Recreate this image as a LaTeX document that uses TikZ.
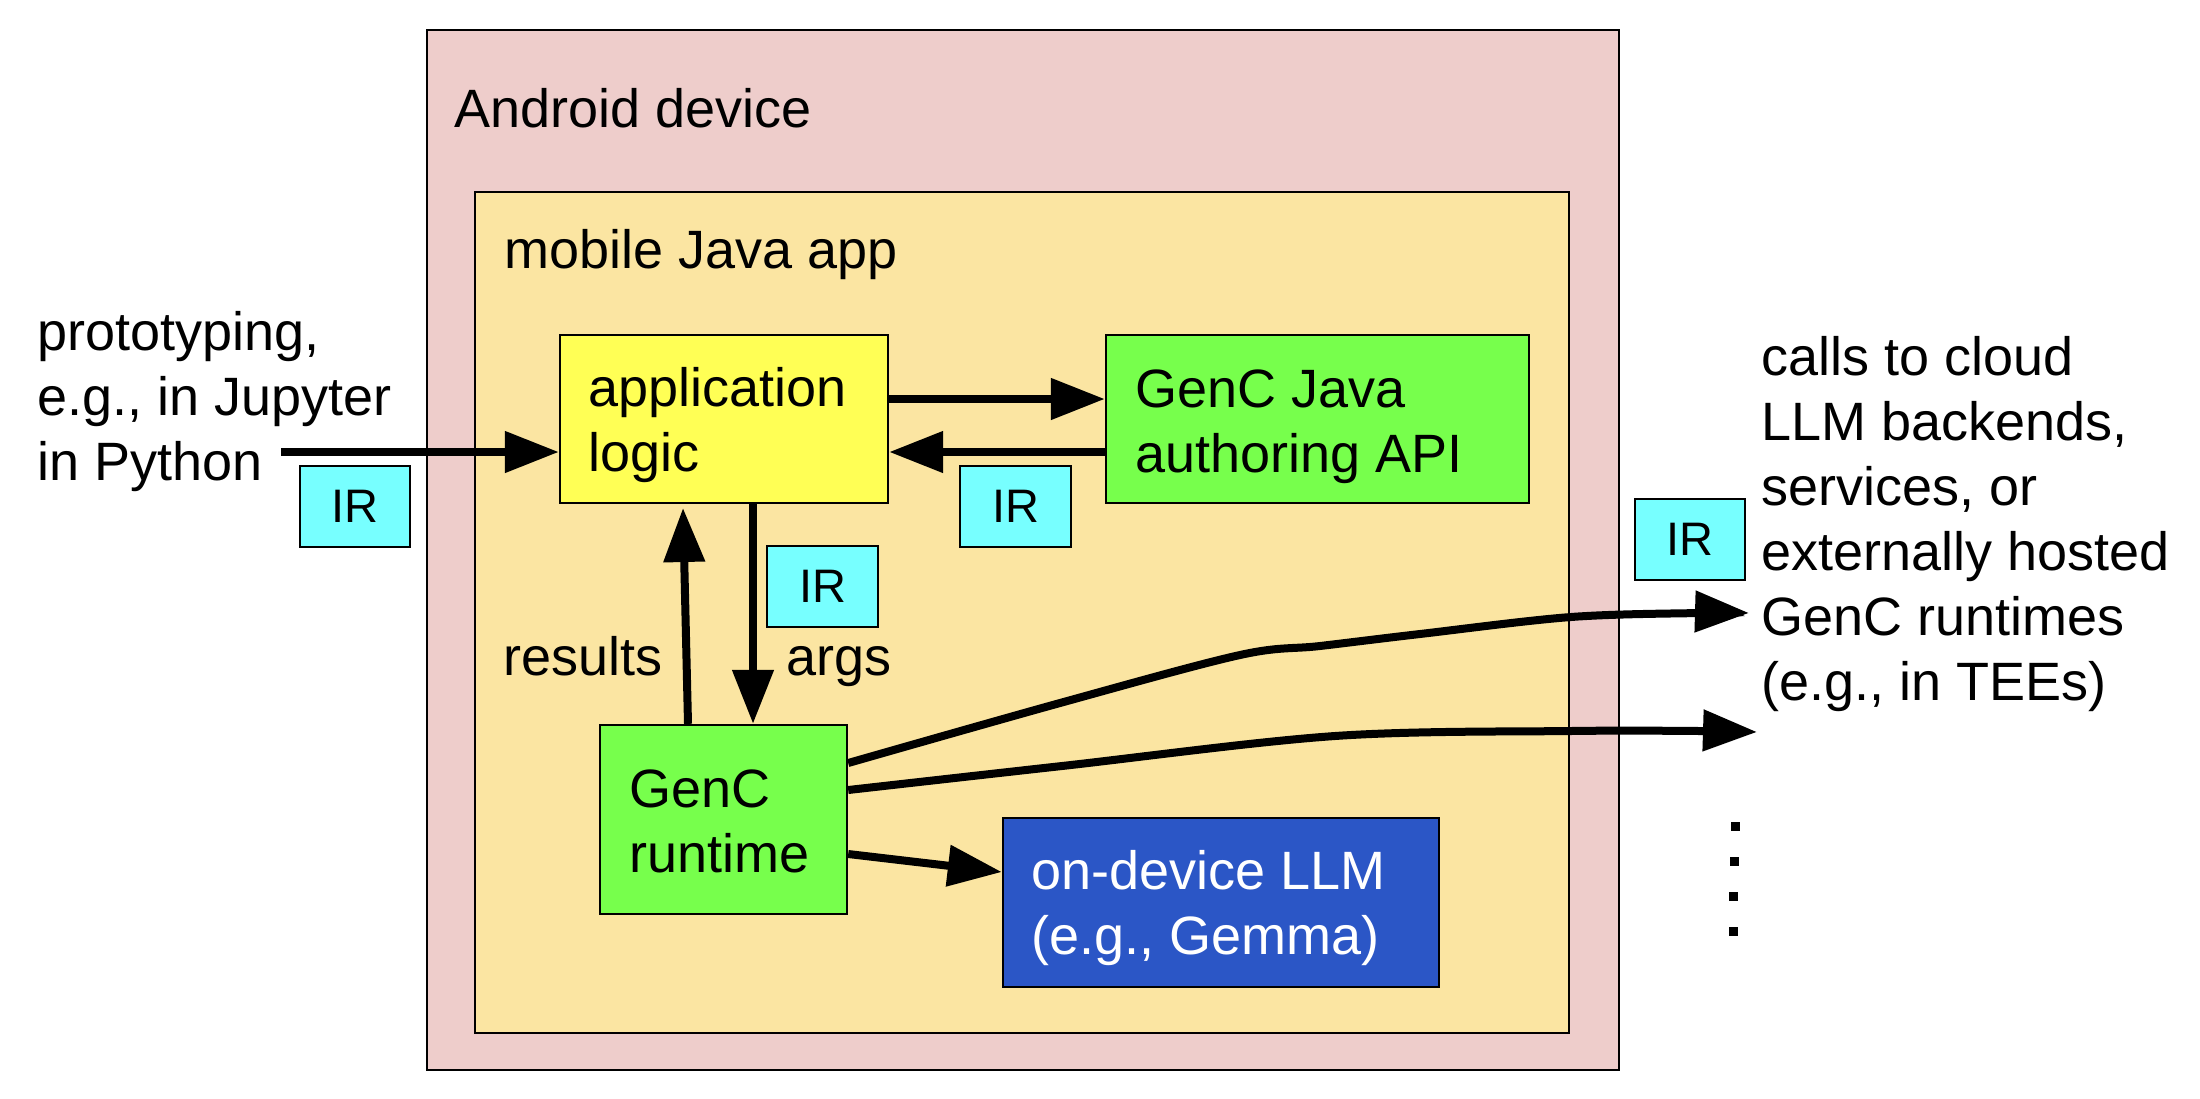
\documentclass[tikz,border=0pt]{standalone}
\usepackage{fontspec}
\setmainfont{Liberation Sans}
\usetikzlibrary{arrows.meta,fit}
\definecolor{cpink}{HTML}{EECDCB}
\definecolor{capp}{HTML}{FBE5A2}
\definecolor{cyel}{HTML}{FFFF55}
\definecolor{cgreen}{HTML}{77FF4C}
\definecolor{ccyan}{HTML}{77FFFF}
\definecolor{cblue}{HTML}{2B56C6}
\tikzset{
  box/.style={draw=black, line width=1.2pt, inner sep=0pt},
  txt/.style={anchor=base west, inner sep=0pt, align=left, font=\fontsize{27}{32.5}\selectfont},
  irtxt/.style={font=\fontsize{23.5}{28}\selectfont, inner sep=0pt},
  conn/.style={line width=4pt, -{Triangle[length=27pt,width=20pt]}},
  dotsq/.style={fill=black, minimum size=4.5pt, inner sep=0pt}
}
\begin{document}
\begin{tikzpicture}[x=0.5pt,y=-0.5pt]
\useasboundingbox (0,0) rectangle (2200,1098);
% containers
\node[box, fill=cpink, fit={(427,30) (1619,1070)}] (android) {};
\node[box, fill=capp, fit={(475,192) (1569,1033)}] (mobile) {};
\node[txt] (androidt) at (454,127) {Android device};
\node[txt] (mobilet) at (504,268) {mobile Java app};
% boxes
\node[box, fill=cyel, fit={(560,335) (888,503)}] (appl) {};
\node[box, fill=cgreen, fit={(1106,335) (1529,503)}] (genj) {};
\node[box, fill=cgreen, fit={(600,725) (847,914)}] (rt) {};
\node[box, fill=cblue, fit={(1003,818) (1439,987)}] (llm) {};
\node[txt] (applt) at (588,471) {application\\logic};
\node[txt] (genjt) at (1135,472) {GenC Java\\authoring API};
\node[txt] (rtt) at (629,872) {GenC\\runtime};
\node[txt, text=white] (llmt) at (1031,954) {on-device LLM\\(e.g., Gemma)};
% IR boxes
\node[box, fill=ccyan, fit={(300,466) (410,547)}] (ir1) {};
\node[irtxt] at (ir1.center) {IR};
\node[box, fill=ccyan, fit={(960,466) (1071,547)}] (ir2) {};
\node[irtxt] at (ir2.center) {IR};
\node[box, fill=ccyan, fit={(767,546) (878,627)}] (ir3) {};
\node[irtxt] at (ir3.center) {IR};
\node[box, fill=ccyan, fit={(1635,499) (1745,580)}] (ir4) {};
\node[irtxt] at (ir4.center) {IR};
% outside texts
\node[txt] (proto) at (37,480) {prototyping,\\e.g., in Jupyter\\in Python};
\node[txt] (calls) at (1761,700) {calls to cloud\\LLM backends,\\services, or\\externally hosted\\GenC runtimes\\(e.g., in TEEs)};
\node[txt, anchor=base east] (results) at (663,675) {results};
\node[txt] (args) at (786,675) {args};
% connectors
\coordinate (inL) at (281,452);
\draw[conn] (inL) -- (appl.west |- inL);
\draw[conn] (appl.east |- 0,399) -- (genj.west |- 0,399);
\draw[conn] (genj.west |- 0,452) -- (appl.east |- 0,452);
\draw[conn] (appl.south -| 753,0) -- (rt.north -| 753,0);
\draw[conn] (rt.north -| 688,0) -- (683,508);
\draw[conn] (rt.east |- 0,854) -- (llm.west |- 0,872);
\coordinate (out1) at (1749,613);
\coordinate (out2) at (1757,732);
\draw[conn] plot[smooth, tension=0.55] coordinates {(rt.east |- 0,763) (1060,703) (1240,655) (1320,646) (1420,634) (1571,617) (1700,613) (out1)};
\draw[conn] plot[smooth, tension=0.55] coordinates {(rt.east |- 0,790) (1062,766) (1335,736) (1571,731) (1700,731) (out2)};
% dots
\node[dotsq] (d1) at (1735,826) {};
\node[dotsq] (d2) at (1734,861) {};
\node[dotsq] (d3) at (1733,896) {};
\node[dotsq] (d4) at (1733,931) {};
\end{tikzpicture}
\end{document}
